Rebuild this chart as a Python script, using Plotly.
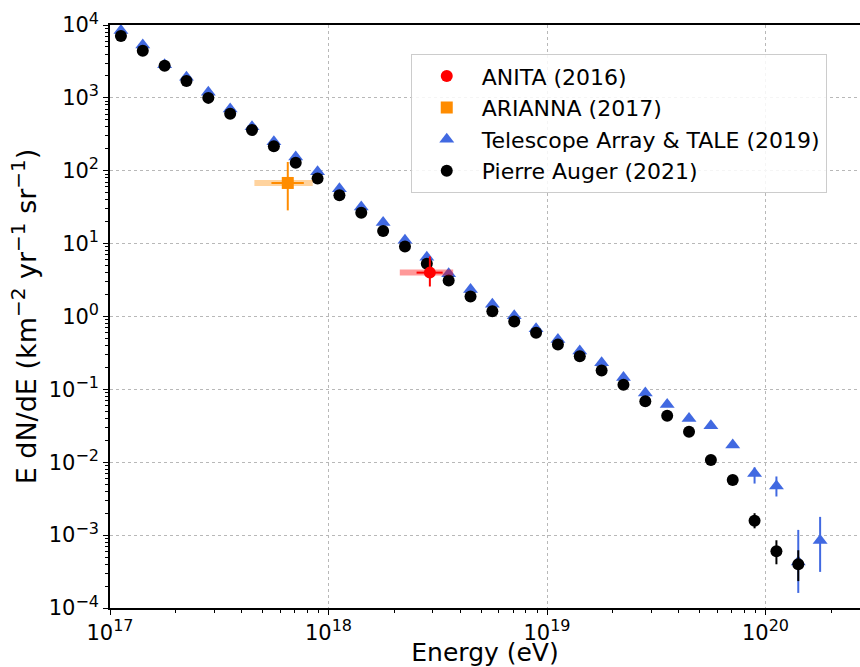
import numpy as np
import plotly.graph_objects as go

# ---- Pierre Auger (2021): log10(E/eV) bin centres and E dN/dE ----
auger_logE = [17.05, 17.15, 17.25, 17.35, 17.45, 17.55, 17.65, 17.75, 17.85, 17.95,
              18.05, 18.15, 18.25, 18.35, 18.45, 18.55, 18.65, 18.75, 18.85, 18.95,
              19.05, 19.15, 19.25, 19.35, 19.45, 19.55, 19.65, 19.75, 19.85, 19.95,
              20.05, 20.15]
auger_flux = [7060, 4440, 2760, 1700, 1000, 604, 363, 217, 129, 78.2,
              46.2, 26.5, 14.9, 9.16, 5.31, 3.13, 1.88, 1.18, 0.853, 0.597,
              0.412, 0.284, 0.181, 0.116, 0.0686, 0.0436, 0.0262, 0.0107, 0.00569, 0.00157,
              0.000601, 0.000398]
auger_hi = [None] * 29 + [0.0020, 0.00085, 0.00062]
auger_lo = [None] * 29 + [0.00124, 0.000398, 0.000234]

# ---- Telescope Array & TALE (2019) ----
ta_logE = [17.05, 17.15, 17.25, 17.35, 17.45, 17.55, 17.65, 17.75, 17.85, 17.95,
           18.05, 18.15, 18.25, 18.35, 18.45, 18.55, 18.65, 18.75, 18.85, 18.95,
           19.05, 19.15, 19.25, 19.35, 19.45, 19.55, 19.65, 19.75, 19.85, 19.95,
           20.05, 20.15, 20.25]
ta_flux = [8410, 5330, 2850, 1915, 1194, 703, 402, 250, 155, 96.8,
           56.8, 31.8, 19.5, 11.1, 6.49, 3.85, 2.34, 1.47, 1.02, 0.679,
           0.485, 0.335, 0.232, 0.145, 0.0893, 0.0621, 0.0399, 0.0316, 0.0173, 0.00702,
           0.00471, 0.000427, 0.000847]
ta_hi = [None] * 29 + [0.0085, 0.00638, 0.00118, 0.00178]
ta_lo = [None] * 29 + [0.0051, 0.00339, 0.000161, 0.000313]

# ---- Radio measurements: energy, stat. range, sys. range, flux with errors ----
anita_E = [2.91e18]
anita_E_stat = [(2.53e18, 3.33e18)]
anita_E_sys = [(2.12e18, 3.72e18)]
anita_flux = [4.0]
anita_flux_rng = [(2.58, 6.68)]

arianna_E = [6.51e17]
arianna_E_stat = [(5.48e17, 7.71e17)]
arianna_E_sys = [(4.58e17, 8.47e17)]
arianna_flux = [68.0]
arianna_flux_rng = [(28.6, 132.0)]

x_ticks = [1e17, 1e18, 1e19, 1e20]
x_exps = [17, 18, 19, 20]
y_ticks = [10.0 ** k for k in range(-4, 5)]
y_exps = list(range(-4, 5))


def sup(s, size):
    return '<sup><span style="font-size:%dpx">%s</span></sup>' % (size, s)


def power_label(k):
    return "10" + sup(str(k).replace("-", "\u2212"), 16)


def err_arrays(vals, hi, lo):
    plus = [(h - v) if h is not None else 0 for v, h in zip(vals, hi)]
    minus = [(v - l) if l is not None else 0 for v, l in zip(vals, lo)]
    return plus, minus


FONT = "DejaVu Sans"
fig = go.Figure()

# Telescope Array & TALE
ta_E = [10.0 ** v for v in ta_logE]
p, m = err_arrays(ta_flux, ta_hi, ta_lo)
fig.add_trace(go.Scatter(
    x=ta_E, y=ta_flux, mode="markers", name="Telescope Array & TALE (2019)",
    legendrank=3, legendgroup="ta",
    marker=dict(symbol="triangle-up", size=13, color="royalblue"),
    error_y=dict(type="data", array=p, arrayminus=m, color="royalblue",
                 thickness=2, width=0),
))

# Pierre Auger
au_E = [10.0 ** v for v in auger_logE]
p, m = err_arrays(auger_flux, auger_hi, auger_lo)
fig.add_trace(go.Scatter(
    x=au_E, y=auger_flux, mode="markers", name="Pierre Auger (2021)",
    legendrank=4, legendgroup="auger",
    marker=dict(symbol="circle", size=12, color="black"),
    error_y=dict(type="data", array=p, arrayminus=m, color="black",
                 thickness=2, width=0),
))


def radio_point(E, stat, sys, flux, frng, color, band, symbol, name, rank):
    # systematic energy range as a wide translucent bar
    for (lo, hi), f in zip(sys, flux):
        fig.add_trace(go.Scatter(
            x=[lo, hi], y=[f, f], mode="lines", showlegend=False,
            line=dict(color=band, width=6), hoverinfo="skip", legendgroup=name,
        ))
    fig.add_trace(go.Scatter(
        x=E, y=flux, mode="markers", name=name, legendrank=rank, legendgroup=name,
        marker=dict(symbol=symbol, size=12, color=color),
        error_x=dict(type="data",
                     array=[s[1] - e for s, e in zip(stat, E)],
                     arrayminus=[e - s[0] for s, e in zip(stat, E)],
                     color=color, thickness=2, width=0),
        error_y=dict(type="data",
                     array=[r[1] - f for r, f in zip(frng, flux)],
                     arrayminus=[f - r[0] for r, f in zip(frng, flux)],
                     color=color, thickness=2, width=0),
    ))


radio_point(arianna_E, arianna_E_stat, arianna_E_sys, arianna_flux, arianna_flux_rng,
            "darkorange", "rgba(255,140,0,0.38)", "square", "ARIANNA (2017)", 2)
radio_point(anita_E, anita_E_stat, anita_E_sys, anita_flux, anita_flux_rng,
            "red", "rgba(255,0,0,0.40)", "circle", "ANITA (2016)", 1)

axis_common = dict(
    type="log", showline=True, linecolor="black", linewidth=1.5, mirror=True,
    ticks="outside", ticklen=5, tickwidth=1.2, tickcolor="black",
    showgrid=True, gridcolor="#b8b8b8", griddash="dot", gridwidth=1,
    zeroline=False,
    tickfont=dict(family=FONT, size=21, color="black"),
    minor=dict(ticks="outside", ticklen=3, tickwidth=1, tickcolor="black",
               dtick="D1", showgrid=False),
)

fig.update_xaxes(
    **axis_common, range=[17, 17 + 750 / 218.5],
    tickvals=x_ticks, ticktext=[power_label(k) for k in x_exps],
    title=dict(text="Energy (eV)", font=dict(family=FONT, size=25, color="black"),
               standoff=8),
)
fig.update_yaxes(
    **axis_common, range=[-4, 4],
    tickvals=y_ticks, ticktext=[power_label(k) for k in y_exps],
    title=dict(text="E dN/dE (km" + sup("\u22122", 20) + " yr" + sup("\u22121", 20)
               + " sr" + sup("\u22121", 20) + ")",
               font=dict(family=FONT, size=27, color="black"), standoff=4),
)

fig.update_layout(
    width=860, height=667,
    margin=dict(l=110, r=0, t=25, b=59, autoexpand=False),
    paper_bgcolor="white", plot_bgcolor="white",
    font=dict(family=FONT, color="black"),
    legend=dict(
        x=0.401, y=0.950, xanchor="left", yanchor="top",
        bgcolor="rgba(255,255,255,0.85)", bordercolor="#cccccc", borderwidth=1,
        font=dict(family=FONT, size=22, color="black"),
        itemwidth=60, tracegroupgap=4, traceorder="normal",
    ),
    showlegend=True,
)

fig.write_html("out.html")
